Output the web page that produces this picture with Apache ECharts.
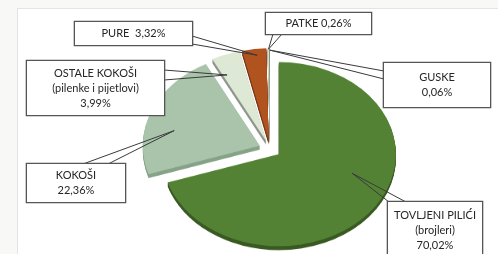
<!DOCTYPE html>
<html>
<head>
<meta charset="utf-8">
<script src="https://cdn.jsdelivr.net/npm/echarts@6/dist/echarts.min.js"></script>
<style>
  html, body { margin: 0; padding: 0; overflow: hidden; background: #ffffff; }
  #bg { position: absolute; left: 0; top: 0; width: 498px; height: 254px; }
  /* pie layer is squashed vertically to get the tilted (elliptic) look */
  #pie { position: absolute; left: 0; top: 0; width: 498px; height: 300px;
         transform-origin: 270px 149px; transform: scaleY(0.787); }
  #labels { position: absolute; left: 0; top: 0; width: 498px; height: 254px; }
</style>
</head>
<body>
<div id="bg"></div>
<div id="pie"></div>
<div id="labels"></div>
<script>
const categories = ['TOVLJENI PILIĆI\n(brojleri)', 'KOKOŠI', 'OSTALE KOKOŠI\n(pilenke i pijetlovi)', 'PURE', 'PATKE', 'GUSKE'];
const shares = [70.02, 22.36, 3.99, 3.32, 0.26, 0.06];
const sliceColors = ['#548235', '#a9c4ab', '#dde8d5', '#b1531f', '#d9d9d9', '#5b8a3a'];
const sideColors = ['#3a5a23', '#86a388', '#8e978b', '#7a3613', '#999999', '#3a5a23'];

const CX = 270, CY = 149, R = 117, TILT = 0.787, EXPLODE = 11;

// callout boxes: position/size, wedge base points, anchor inside slice (t along angle, f along radius)
const boxes = [
    { x: 388, y: 202, w: 94, h: 56, sep: '\n', p1: [389, 202], p2: [406, 202], t: 0.43, f: 0.66 },
    { x: 27, y: 164, w: 98, h: 38, sep: '\n', p1: [83, 164], p2: [108, 164], t: 0.38, f: 0.75 },
    { x: 27, y: 61, w: 137, h: 54, sep: '\n', p1: [164, 70], p2: [164, 80], t: 0.17, f: 0.79 },
    { x: 75, y: 22, w: 117, h: 23, sep: '  ', p1: [192, 36], p2: [192, 44], t: 0.59, f: 0.93 },
    { x: 266, y: 13, w: 105, h: 21, sep: ' ', p1: [273, 34], p2: [282, 34], t: 0.5, f: 0.99 },
    { x: 384, y: 63, w: 106, h: 44, sep: '\n', p1: [384, 71], p2: [384, 79], t: 0.5, f: 0.98 }
];

const total = shares.reduce((a, b) => a + b, 0);
const fmt = v => v.toFixed(2).replace('.', ',') + '%';

function anchorPoint(i) {
    const before = shares.slice(0, i).reduce((a, b) => a + b, 0);
    const start = before / total * 360, span = shares[i] / total * 360;
    const mid = (start + span / 2) * Math.PI / 180;
    const a = (start + span * boxes[i].t) * Math.PI / 180;
    const x = CX + EXPLODE * Math.sin(mid) + boxes[i].f * R * Math.sin(a);
    const y = CY - EXPLODE * Math.cos(mid) - boxes[i].f * R * Math.cos(a);
    return [x, CY + (y - CY) * TILT];
}

// slide-like frame: off-white margin strips on the left and top, white panel
const bgChart = echarts.init(document.getElementById('bg'));
bgChart.setOption({
    backgroundColor: '#fff',
    graphic: [
        { type: 'rect', left: 0, top: 0, shape: { width: 17, height: 254 }, style: { fill: '#f8f8f6' } },
        { type: 'rect', left: 0, top: 0, shape: { width: 498, height: 8 }, style: { fill: '#f8f8f6' } },
        { type: 'line', shape: { x1: 17.5, y1: 8, x2: 17.5, y2: 254 }, style: { stroke: '#e4e4e2', lineWidth: 1 } },
        { type: 'line', shape: { x1: 17, y1: 8.5, x2: 498, y2: 8.5 }, style: { stroke: '#e4e4e2', lineWidth: 1 } }
    ]
});

function pieData(colors) {
    return categories.map((name, i) => ({
        name: name, value: shares[i], selected: true, itemStyle: { color: colors[i] }
    }));
}

function pieSeries(dy, colors, z) {
    return {
        type: 'pie', center: [CX, CY + dy], radius: R, startAngle: 90, clockwise: true,
        selectedMode: 'multiple', selectedOffset: EXPLODE, silent: true, z: z,
        itemStyle: { borderWidth: 0 }, label: { show: false }, labelLine: { show: false },
        emphasis: { disabled: true }, data: pieData(colors)
    };
}

const pieChart = echarts.init(document.getElementById('pie'));
const sides = [5, 4, 3, 2, 1].map((d, k) => pieSeries(d, sideColors, 1 + k));
pieChart.setOption({ animation: false, series: sides.concat([pieSeries(0, sliceColors, 10)]) });

const labelChart = echarts.init(document.getElementById('labels'));
labelChart.setOption({
    animation: false,
    series: [{
        type: 'pie', center: [CX, CY], radius: R, startAngle: 90, clockwise: true,
        silent: true, avoidLabelOverlap: false,
        itemStyle: { color: 'rgba(0,0,0,0)', borderWidth: 0 },
        emphasis: { disabled: true },
        label: {
            show: true, position: 'outside', color: '#262626', fontFamily: 'Lato',
            fontSize: 11, lineHeight: 15, backgroundColor: '#fff', borderColor: '#555', borderWidth: 1.3
        },
        labelLine: { show: true, lineStyle: { color: '#3a3a3a', width: 1 } },
        labelLayout: function (params) {
            const b = boxes[params.dataIndex];
            return {
                x: b.x + b.w / 2, y: b.y + b.h / 2, align: 'center', verticalAlign: 'middle',
                labelLinePoints: [b.p1, anchorPoint(params.dataIndex), b.p2]
            };
        },
        data: categories.map((name, i) => {
            const text = name + boxes[i].sep + fmt(shares[i]);
            const lines = text.split('\n').length;
            const pv = Math.max(0, (boxes[i].h - lines * 15) / 2);
            return { name: name, value: shares[i],
                label: { formatter: text, width: boxes[i].w, padding: [pv, 0, pv, 0] } };
        })
    }]
});
</script>
</body>
</html>
